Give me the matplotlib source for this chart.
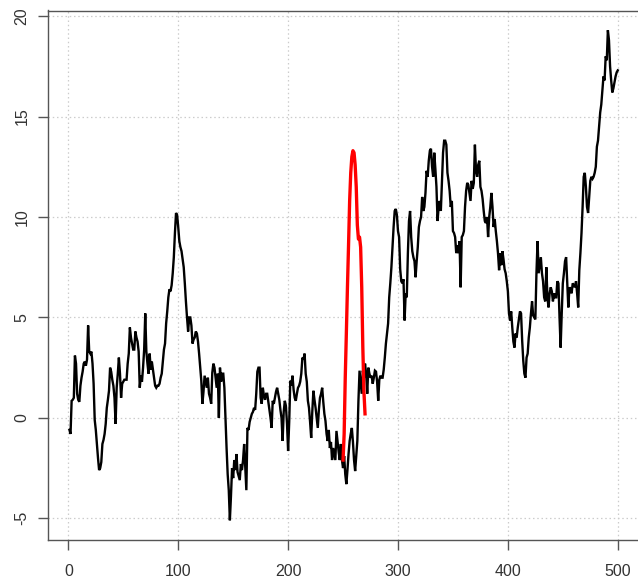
import matplotlib
matplotlib.use("Agg")
import matplotlib.pyplot as plt

# ---- data ----
black_y = [
    -0.6, -0.8, 0.85, 0.9, 1.0, 3.1, 2.7, 1.2, 0.9, 0.8,
    1.6, 2.0, 2.3, 2.7, 2.8, 2.6, 2.9, 4.6, 3.3, 3.2,
    3.3, 2.7, 1.7, -0.1, -0.6, -1.3, -2.0, -2.6, -2.5, -2.2,
    -1.3, -1.1, -0.8, -0.3, 0.5, 0.9, 1.35, 2.5, 2.3, 1.9,
    1.6, 1.0, -0.3, 1.5, 2.2, 3.0, 2.2, 1.0, 1.7, 1.8,
    1.9, 1.9, 1.9, 2.7, 3.2, 4.5, 4.0, 3.7, 3.4, 3.4,
    4.3, 4.0, 3.8, 3.3, 1.5, 2.1, 1.8, 2.5, 3.4, 5.2,
    3.3, 2.7, 2.2, 3.2, 2.4, 2.8, 2.4, 2.0, 1.6, 1.5,
    1.6, 1.6, 1.7, 2.0, 2.2, 2.8, 3.4, 3.7, 4.7, 5.3,
    6.0, 6.4, 6.3, 6.6, 7.2, 8.0, 9.2, 10.2, 10.1, 9.5,
    8.8, 8.5, 8.3, 7.9, 7.5, 6.7, 5.8, 5.0, 4.3, 5.0,
    5.0, 4.6, 3.7, 3.9, 4.0, 4.3, 4.2, 3.8, 3.2, 2.5,
    1.85, 0.7, 1.3, 2.1, 1.8, 1.5, 2.0, 1.2, 1.0, 0.7,
    2.25, 2.7, 2.5, 2.0, 1.5, 2.2, 0.0, 2.5, 1.8, 2.2,
    2.2, 1.5, 0.0, -1.5, -2.8, -3.6, -5.1, -3.9, -2.5, -3.0,
    -2.1, -2.6, -1.8, -2.7, -2.9, -3.1, -2.3, -2.6, -2.1, -1.3,
    -2.5, -3.6, -0.5, -0.6, -0.2, 0.0, 0.2, 0.3, 0.5, 0.4,
    1.2, 2.3, 2.5, 2.5, 1.0, 0.7, 1.5, 1.1, 0.9, 1.2,
    1.2, 0.8, 0.4, 0.0, -0.5, 0.85, 0.7, 1.0, 1.3, 1.5,
    1.2, 0.9, 0.4, 0.0, -1.15, 0.3, 0.85, 0.6, -0.3, -1.65,
    -0.2, 1.85, 1.6, 2.1, 1.4, 1.0, 0.85, 1.2, 1.5, 1.6,
    1.8, 2.2, 3.0, 2.9, 3.2, 2.2, 1.8, 0.85, 0.5, -0.2,
    -1.0, 0.3, 1.35, 0.9, 0.5, 0.0, -0.5, 0.4, 1.0, 1.2,
    1.5, 0.8, 0.2, -0.15, -0.8, -1.15, -0.6, -1.5, -1.2, -2.1,
    -1.5, -1.8, -2.1, -0.65, -1.2, -1.7, -2.1, -1.3, -2.1, -2.5,
    -1.9, -2.8, -3.3, -2.6, -1.8, -1.15, -0.8, -0.5, -1.2, -2.1,
    -2.65, -1.9, -1.15, 0.85, 2.35, 1.8, 1.2, 2.35, 2.0, 2.7,
    2.2, 1.2, 2.5, 2.2, 2.0, 2.1, 1.7, 2.0, 2.35, 2.3,
    1.8, 0.85, 1.9, 2.1, 2.0, 2.0, 2.4, 3.0, 3.7, 4.2,
    4.7, 6.0, 6.7, 7.5, 8.5, 9.5, 10.3, 10.4, 10.1, 9.3,
    9.0, 7.4, 6.8, 6.7, 6.9, 4.85, 6.2, 6.0, 8.2, 9.8,
    10.3, 9.0, 8.3, 8.0, 7.8, 7.0, 7.8, 8.5, 9.5, 9.8,
    10.0, 11.0, 10.3, 10.5, 11.2, 12.3, 12.0, 12.8, 13.3, 13.4,
    12.5, 12.0, 13.2, 12.4, 11.5, 9.8, 10.5, 10.8, 10.3, 11.8,
    13.2, 13.8, 13.8, 13.6, 12.2, 11.8, 11.3, 10.5, 10.8, 9.3,
    9.2, 9.0, 8.2, 8.6, 8.2, 8.8, 6.5, 9.0, 9.1, 9.3,
    10.5, 11.3, 11.7, 11.6, 11.2, 10.8, 11.8, 11.4, 11.7, 13.6,
    12.3, 12.0, 12.6, 12.8, 11.5, 11.3, 10.9, 10.3, 9.8, 9.7,
    10.0, 9.0, 10.0, 10.5, 11.2, 10.5, 9.5, 9.9, 9.3, 8.8,
    8.2, 7.35, 8.2, 7.6, 8.3, 7.9, 7.4, 7.2, 6.8, 6.3,
    5.2, 4.85, 5.3, 4.5, 3.8, 3.5, 4.2, 4.0, 4.5, 4.9,
    5.3, 5.2, 3.85, 2.85, 2.2, 2.0, 3.0, 3.2, 4.0, 4.5,
    5.2, 5.8, 5.1, 5.0, 4.9, 7.2, 8.8, 7.2, 7.6, 8.0,
    7.2, 6.8, 6.0, 5.8, 7.5, 6.0, 5.5, 6.2, 6.5, 6.3,
    5.8, 6.2, 6.0, 6.0, 6.8, 6.7, 5.0, 3.5, 5.2, 6.7,
    7.2, 7.8, 8.0, 6.8, 5.5, 6.5, 6.4, 6.2, 6.7, 6.6,
    6.5, 6.8, 6.2, 5.5, 7.35, 8.2, 9.2, 10.5, 12.0, 12.2,
    11.5, 10.5, 10.2, 11.0, 11.8, 12.0, 11.9, 12.0, 12.2, 12.5,
    13.5, 13.8, 14.5, 15.2, 15.6, 16.3, 17.0, 16.8, 18.0, 17.8,
    19.3, 18.8, 17.5, 16.8, 16.2, 16.4, 16.7, 17.0, 17.2, 17.3,
]
black_x = list(range(1, len(black_y) + 1))

red_x = list(range(250, 271))
red_y = [-2.1, -0.8, 2.0, 4.2, 6.5, 8.6, 10.8, 12.2, 13.0, 13.3,
         13.2, 12.6, 11.5, 9.6, 8.9, 9.0, 8.5, 6.5, 3.5, 1.3, 0.2]

x_ticks = [0, 100, 200, 300, 400, 500]
y_ticks = [-5, 0, 5, 10, 15, 20]

# ---- figure ----
W, H, DPI = 638, 581, 100
fig = plt.figure(figsize=(W / DPI, H / DPI), dpi=DPI)
plt.rcParams['font.family'] = ['Liberation Sans', 'DejaVu Sans']

left_px, right_px, top_px, bottom_px = 47.5, 639.7, 10.5, 540
ax = fig.add_axes([left_px / W, 1 - bottom_px / H,
                   (right_px - left_px) / W, (bottom_px - top_px) / H])

ax.set_xlim(-18.96, 519.96)
ax.set_ylim(-6.08, 20.28)

for xv in x_ticks:
    ax.axvline(xv, color='#cccccc', linestyle=(0, (1.2, 2.2)), lw=0.9, zorder=0)
for yv in y_ticks:
    ax.axhline(yv, color='#cccccc', linestyle=(0, (1.2, 2.2)), lw=0.9, zorder=0)

ax.plot(black_x, black_y, color='black', lw=1.7, solid_joinstyle='miter', zorder=2)
ax.plot(red_x, red_y, color='#ff0000', lw=2.4, zorder=3)

ax.set_xticks(x_ticks)
ax.set_yticks(y_ticks)
ax.set_xticklabels([str(v) for v in x_ticks])
ax.set_yticklabels([str(v) for v in y_ticks])

for s in ax.spines.values():
    s.set_color('#555555')
    s.set_linewidth(1.0)

ax.tick_params(axis='both', direction='out', length=7, width=1.0,
               color='#555555', labelsize=11.5, labelcolor='#333333')
ax.tick_params(axis='x', pad=10)
ax.tick_params(axis='y', pad=6)
for lab in ax.get_yticklabels():
    lab.set_rotation(90)
    lab.set_va('center')

fig.savefig('out.png', dpi=DPI)
